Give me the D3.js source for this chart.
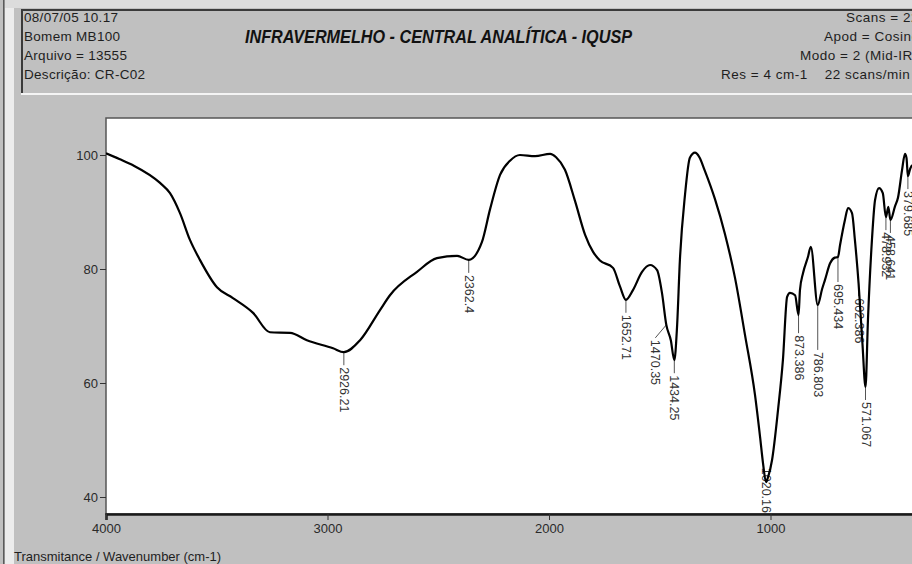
<!DOCTYPE html>
<html>
<head>
<meta charset="utf-8">
<script src="https://cdn.jsdelivr.net/npm/d3@7"></script>
<style>
    body { margin: 0; background: #c0c0c0; overflow: hidden; }
    text { font-family: "Liberation Sans", Arial, sans-serif; }
    .hl, .hr { white-space: pre; }
</style>
</head>
<body>
<svg id="chart" width="912" height="564"></svg>
<script>

// spectrum: wavenumber (cm-1) and % transmittance
var wavenumber = [4000, 3940, 3878, 3756, 3711, 3666, 3621, 3576, 3499, 3427, 3336, 3260, 3169, 3093, 2975,
    2926.21, 2853, 2763, 2718, 2596, 2506, 2415, 2362.4, 2303, 2266, 2221, 2176, 2131, 2063, 1995, 1968,
    1928, 1883, 1837, 1801, 1770, 1711, 1680, 1652.71, 1621, 1580, 1544, 1512, 1490, 1470.35, 1450,
    1434.25, 1422, 1409, 1386, 1364, 1341, 1321, 1298, 1251, 1206, 1160, 1115, 1070, 1047, 1034, 1020.16,
    1011, 993, 966, 944, 925, 912, 889, 873.386, 867, 853, 831, 818, 786.803, 767, 754, 731, 710, 695.434,
    686, 664, 650, 632, 619, 602.386, 585, 571.067, 560, 542, 528, 510, 493, 478.932, 468, 458.641, 438,
    424, 406, 393, 386, 379.685, 370, 361, 350];
var transmittance = [100.3, 99.3, 98.2, 95.1, 93.3, 89.8, 85.1, 81.6, 76.8, 74.9, 72.3, 68.9, 68.8, 67.5, 66.1,
    65.4, 67.5, 72.8, 75.4, 79.5, 81.9, 82.3, 81.6, 84.7, 90.5, 96.5, 99.0, 100.0, 99.8, 100.2, 99.6,
    97.4, 92.0, 86.0, 83.0, 81.5, 80.2, 77.0, 74.6, 76.3, 79.5, 80.7, 79.8, 75.8, 70.2, 67.5,
    64.0, 69.8, 81.6, 93.0, 99.5, 100.4, 99.6, 97.4, 92.3, 86.2, 78.4, 68.4, 57.9, 50.5, 46.0, 42.6,
    43.5, 46.5, 55.3, 64.0, 75.1, 75.8, 75.4, 71.9, 76.3, 79.3, 82.1, 83.9, 73.7, 76.5, 78.1, 81.0, 82.0, 82.1,
    84.2, 88.6, 90.7, 89.8, 85.1, 77.5, 67.0, 59.3, 71.1, 85.1, 92.1, 94.2, 93.3, 89.1, 90.9, 88.6, 91.0,
    92.6, 97.4, 100.2, 99.5, 96.3, 97.5, 98.2, 97.0];

var peakWavenumber = [2926.21, 2362.4, 1652.71, 1470.35, 1434.25, 1020.16, 873.386, 786.803, 695.434,
    602.386, 571.067, 478.932, 458.641, 379.685];
var peakLabel = ["2926.21", "2362.4", "1652.71", "1470.35", "1434.25", "1020.16", "873.386", "786.803",
    "695.434", "602.386", "571.067", "478.932", "458.641", "379.685"];

var xTicks = [4000, 3000, 2000, 1000];
var yTicks = [40, 60, 80, 100];

var headerLeft = ["08/07/05 10.17", "Bomem MB100", "Arquivo = 13555", "Descrição: CR-C02"];
var headerRight = ["Scans = 22", "Apod = Cosine", "Modo = 2 (Mid-IR)", "Res = 4 cm-1    22 scans/min"];
var title = "INFRAVERMELHO - CENTRAL ANALÍTICA - IQUSP";
var axisTitle = "Transmitance / Wavenumber (cm-1)";

// leader tweaks for labels that the instrument pushed around
var leaderLength = { "695.434": 25, "786.803": 45, "873.386": 18 };
var leaderShift = { "1470.35": -11 };

var svg = d3.select("#chart");

// window frame
svg.append("rect").attr("x", 0).attr("y", 0).attr("width", 912).attr("height", 564).attr("fill", "#c0c0c0");
svg.append("rect").attr("x", 5).attr("y", 0).attr("width", 9).attr("height", 564).attr("fill", "#ececec");
svg.append("rect").attr("x", 5).attr("y", 0).attr("width", 907).attr("height", 8).attr("fill", "#dcdcdc");
svg.append("rect").attr("x", 3).attr("y", 0).attr("width", 1.5).attr("height", 564).attr("fill", "#5a5a5a");

// header box, sunken look
var header = svg.append("g");
header.append("line").attr("x1", 22).attr("x2", 912).attr("y1", 10).attr("y2", 10)
    .attr("stroke", "#3a3a3a").attr("stroke-width", 2);
header.append("line").attr("x1", 22).attr("x2", 22).attr("y1", 9).attr("y2", 93)
    .attr("stroke", "#3a3a3a").attr("stroke-width", 2);
header.append("line").attr("x1", 21).attr("x2", 912).attr("y1", 94).attr("y2", 94)
    .attr("stroke", "#f4f4f4").attr("stroke-width", 2);

header.selectAll(".hl").data(headerLeft).enter().append("text")
    .attr("class", "hl")
    .attr("x", 24)
    .attr("y", function (d, i) { return 22 + i * 19; })
    .attr("font-size", 13.5)
    .attr("letter-spacing", 0.3)
    .attr("fill", "#1e1e1e")
    .text(function (d) { return d; });

var rightX = [846, 824, 800, 721];
header.selectAll(".hr").data(headerRight).enter().append("text")
    .attr("class", "hr")
    .attr("x", function (d, i) { return rightX[i]; })
    .attr("y", function (d, i) { return 22 + i * 19; })
    .attr("font-size", 13.5)
    .attr("letter-spacing", 0.5)
    .attr("fill", "#1e1e1e")
    .text(function (d) { return d; });

header.append("text")
    .attr("x", 245)
    .attr("y", 43)
    .attr("font-size", 19)
    .attr("font-weight", "bold")
    .attr("font-style", "italic")
    .attr("textLength", 387)
    .attr("lengthAdjust", "spacingAndGlyphs")
    .attr("fill", "#111")
    .text(title);

// plot area
var margin = { left: 106, top: 118, bottom: 514 };

var x = d3.scaleLinear().domain([4000, 0]).range([margin.left, margin.left + 4000 * 0.2215]);
var y = d3.scaleLinear().domain([40, 100]).range([497, 155]);

svg.append("defs").append("clipPath")
    .attr("id", "clip")
    .append("rect")
    .attr("x", margin.left)
    .attr("y", margin.top)
    .attr("width", 912 - margin.left)
    .attr("height", margin.bottom - margin.top);

svg.append("rect")
    .attr("x", margin.left)
    .attr("y", margin.top)
    .attr("width", 912 - margin.left + 5)
    .attr("height", margin.bottom - margin.top)
    .attr("fill", "#fff")
    .attr("stroke", "#555")
    .attr("stroke-width", 1.5);

var yAxis = d3.axisLeft(y).tickValues(yTicks).tickSize(6).tickPadding(2).tickFormat(d3.format("d"));
var gy = svg.append("g").attr("transform", "translate(" + margin.left + ",0)").call(yAxis);
gy.select(".domain").remove();
gy.selectAll("line").attr("stroke", "#333");
gy.selectAll("text").attr("font-size", 13).attr("fill", "#2a2a2a").attr("font-family", "Liberation Sans, Arial, sans-serif");

var xAxis = d3.axisBottom(x).tickValues(xTicks).tickSize(6).tickPadding(4).tickFormat(d3.format("d"));
var gx = svg.append("g").attr("transform", "translate(0," + margin.bottom + ")").call(xAxis);
gx.select(".domain").attr("stroke", "#1a1a1a").attr("stroke-width", 2.5);
gx.selectAll("line").attr("stroke", "#333");
gx.selectAll("text").attr("font-size", 13).attr("fill", "#2a2a2a").attr("font-family", "Liberation Sans, Arial, sans-serif");

svg.append("text")
    .attr("x", 14)
    .attr("y", 561)
    .attr("font-size", 13)
    .attr("fill", "#1e1e1e")
    .text(axisTitle);

var plot = svg.append("g").attr("clip-path", "url(#clip)");

var points = wavenumber.map(function (w, i) { return [w, transmittance[i]]; });

var line = d3.line()
    .x(function (d) { return x(d[0]); })
    .y(function (d) { return y(d[1]); })
    .curve(d3.curveMonotoneX);

// peak labels
var labels = plot.selectAll(".peak").data(peakWavenumber).enter().append("g").attr("class", "peak");

labels.each(function (w, i) {
    var g = d3.select(this);
    var idx = wavenumber.indexOf(w);
    var px = x(w), py = y(transmittance[idx]);
    var lead = leaderLength[peakLabel[i]] || 13;
    var shift = leaderShift[peakLabel[i]] || 0;
    var tx = px + shift;
    var t = g.append("text")
        .attr("font-size", 12.5)
        .attr("fill", "#333")
        .attr("dominant-baseline", "central")
        .text(peakLabel[i]);
    var len = t.node().getComputedTextLength();
    var ty = Math.min(py + lead, margin.bottom - len - 3);
    t.attr("transform", "translate(" + tx + "," + (ty + 2) + ") rotate(90)");
    if (ty > py) {
        g.insert("line", "text")
            .attr("x1", px).attr("y1", py)
            .attr("x2", tx).attr("y2", ty)
            .attr("stroke", "#555")
            .attr("stroke-width", 1);
    }
});

plot.append("path")
    .datum(points)
    .attr("fill", "none")
    .attr("stroke", "#000")
    .attr("stroke-width", 2.2)
    .attr("stroke-linejoin", "round")
    .attr("d", line);

</script>
</body>
</html>
